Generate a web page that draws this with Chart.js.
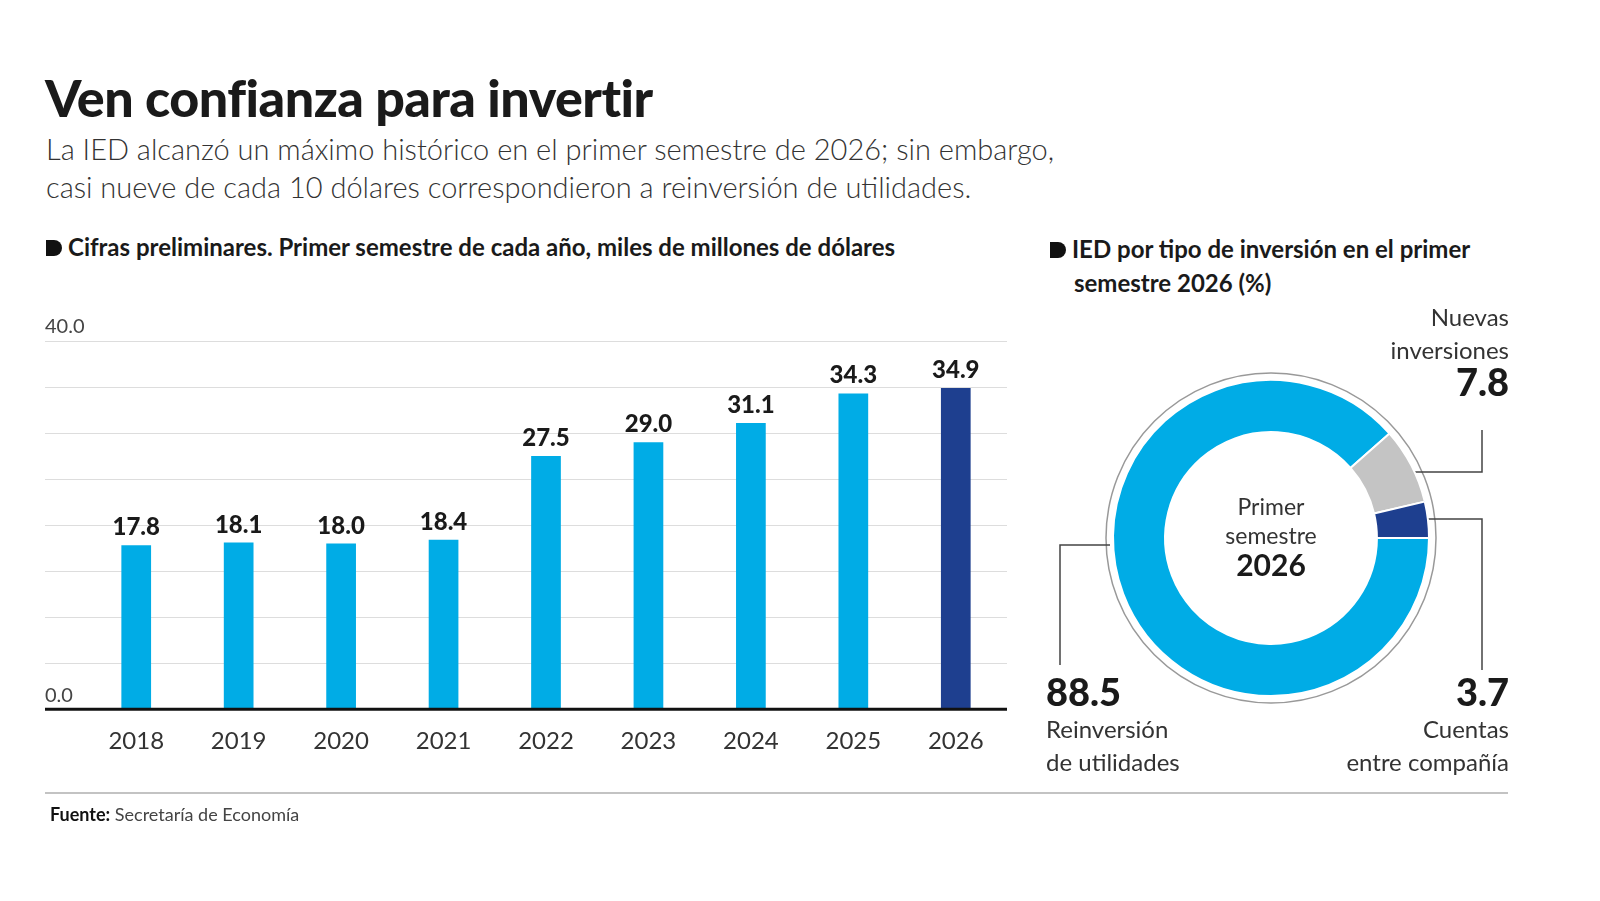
<!DOCTYPE html>
<html><head><meta charset="utf-8">
<script src="https://cdn.jsdelivr.net/npm/chart.js@4"></script>
<style>
body{margin:0;width:1600px;height:901px;background:#fff;font-family:Lato,"Open Sans",sans-serif;color:#1a1a1a;position:relative;overflow:hidden}
.a{position:absolute;white-space:nowrap}
</style></head><body>
<div class="a" style="left:45px;top:66px;font-size:52px;font-weight:900;letter-spacing:-0.5px">Ven confianza para invertir</div>
<div class="a" style="left:46px;top:130px;font-size:29px;line-height:38px;color:#333;font-weight:300">La IED alcanzó un máximo histórico en el primer semestre de 2026; sin embargo,<br>casi nueve de cada 10 dólares correspondieron a reinversión de utilidades.</div>
<div class="a" style="left:46px;top:232px;font-size:24px;font-weight:700"><span style="display:inline-block;width:16px;height:16px;background:#111;margin-right:6px;border-radius:0 8px 8px 0"></span>Cifras preliminares. Primer semestre de cada año, miles de millones de dólares</div>
<div class="a" style="left:1050px;top:232px;font-size:24px;font-weight:700;line-height:34px"><span style="display:inline-block;width:16px;height:16px;background:#111;margin-right:6px;border-radius:0 8px 8px 0"></span>IED por tipo de inversión en el primer<br><span style="margin-left:24px">semestre 2026 (%)</span></div>
<div style="position:absolute;left:45px;top:300px;width:962px;height:474px"><canvas id="bar"></canvas></div>
<svg class="a" style="left:0;top:0" width="1600" height="901">
<circle cx="1271" cy="538" r="165" fill="none" stroke="#999" stroke-width="1.5"/>
<polyline points="1397,472 1482,472 1482,430" fill="none" stroke="#444" stroke-width="1.5"/>
<circle cx="1397" cy="472" r="3" fill="#222"/>
<polyline points="1415,519 1482,519 1482,670" fill="none" stroke="#444" stroke-width="1.5"/>
<circle cx="1415" cy="519" r="3" fill="#fff"/>
<polyline points="1110,545 1060,545 1060,665" fill="none" stroke="#444" stroke-width="1.5"/>
<line x1="45" y1="793" x2="1508" y2="793" stroke="#888" stroke-width="1.2"/>
</svg>
<div style="position:absolute;left:1091px;top:358px;width:360px;height:360px"><canvas id="pie"></canvas></div>
<div class="a" style="left:1171px;top:492px;width:200px;text-align:center;font-size:23px;line-height:29px;color:#333">Primer<br>semestre<br><b style="font-size:30px;color:#1a1a1a">2026</b></div>
<div class="a" style="right:91px;top:300px;text-align:right;font-size:24px;line-height:33px;color:#333">Nuevas<br>inversiones</div>
<div class="a" id="l1" style="right:91px;top:358px;font-size:38px;font-weight:900"></div>
<div class="a" id="l0" style="left:1046px;top:668px;font-size:38px;font-weight:900"></div>
<div class="a" style="left:1046px;top:712px;font-size:24px;line-height:33px;color:#333">Reinversión<br>de utilidades</div>
<div class="a" id="l2" style="right:91px;top:668px;font-size:38px;font-weight:900"></div>
<div class="a" style="right:91px;top:712px;text-align:right;font-size:24px;line-height:33px;color:#333">Cuentas<br>entre compañía</div>
<div class="a" style="left:50px;top:803px;font-size:18px;color:#444"><b style="color:#111">Fuente:</b> Secretaría de Economía</div>
<script>
const years=['2018','2019','2020','2021','2022','2023','2024','2025','2026'];
const ied=[17.8,18.1,18.0,18.4,27.5,29.0,31.1,34.3,34.9];
const pieLabels=['Reinversión de utilidades','Nuevas inversiones','Cuentas entre compañía'];
const pieValues=[88.5,7.8,3.7];
const F='Lato, "Open Sans", sans-serif';
pieValues.forEach((v,i)=>document.getElementById('l'+i).textContent=v.toFixed(1));
const valLabels={id:'vl',afterDatasetsDraw(c){const x=c.ctx;x.save();x.font='900 24px '+F;x.fillStyle='#1a1a1a';x.textAlign='center';
c.getDatasetMeta(0).data.forEach((b,i)=>x.fillText(ied[i].toFixed(1),b.x,b.y-10));
const y0=c.scales.y.getPixelForValue(0);x.strokeStyle='#111';x.lineWidth=3;x.beginPath();x.moveTo(0,y0);x.lineTo(c.chartArea.right,y0);x.stroke();x.restore();}};
new Chart(document.getElementById('bar'),{type:'bar',
data:{labels:years,datasets:[{data:ied,backgroundColor:ied.map((v,i)=>i==ied.length-1?'#1e3f8f':'#00ace6'),barPercentage:0.29,categoryPercentage:1}]},
options:{responsive:true,maintainAspectRatio:false,animation:false,layout:{padding:{top:41,left:0}},
plugins:{legend:{display:false},tooltip:{enabled:false}},
scales:{y:{min:0,max:40,afterFit:s=>{s.width=40;},ticks:{stepSize:5,crossAlign:'far',padding:0,labelOffset:-14,font:{size:20,family:F},color:'#444',
callback:v=>(v==0||v==40)?v.toFixed(1):''},grid:{color:'#ddd',drawTicks:true,tickLength:40,tickColor:'#ddd'},border:{display:false}},
x:{ticks:{font:{size:24,family:F},color:'#333',padding:18},grid:{display:false,drawTicks:false},border:{display:false}}}},
plugins:[valLabels]});
new Chart(document.getElementById('pie'),{type:'doughnut',
data:{labels:pieLabels,datasets:[{data:pieValues,backgroundColor:['#00ace6','#c4c4c4','#1e3f8f'],borderColor:'#fff',borderWidth:2}]},
options:{responsive:true,maintainAspectRatio:false,animation:false,rotation:90,radius:158,cutout:120,
plugins:{legend:{display:false},tooltip:{enabled:false}}}});
</script>
</body></html>
